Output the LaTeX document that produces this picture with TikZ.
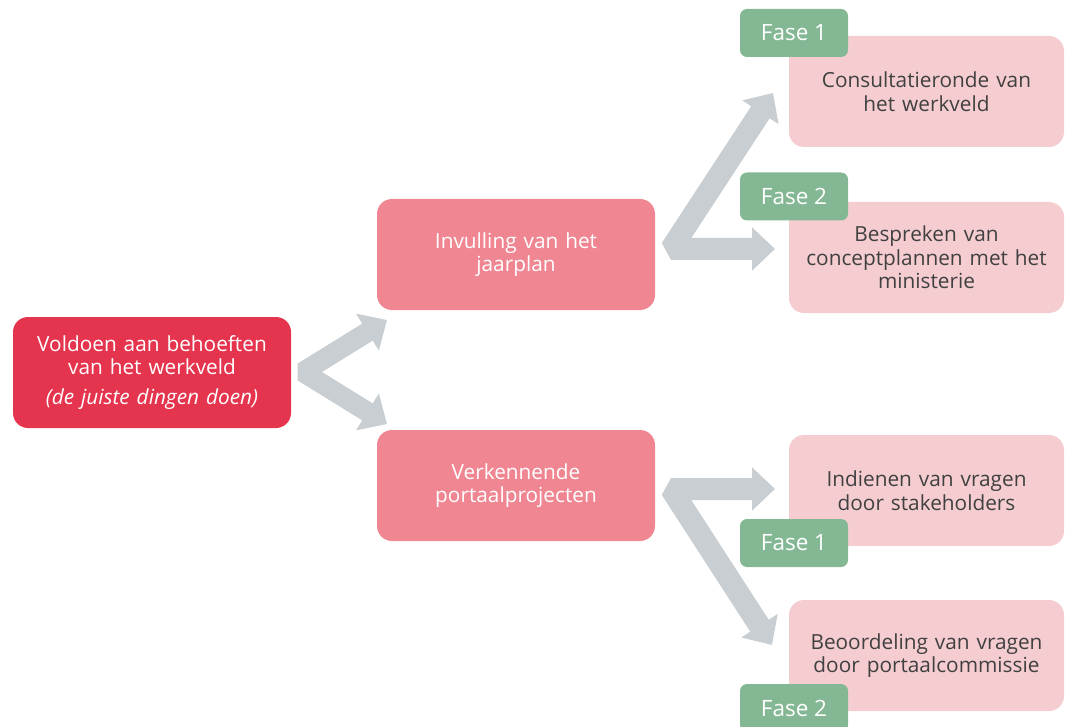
\documentclass[tikz,border=0pt]{standalone}
\usepackage{fontspec}
\setmainfont{Open Sans}
\usetikzlibrary{arrows.meta}
\definecolor{crim}{HTML}{E5344E}
\definecolor{midpink}{HTML}{EF8692}
\definecolor{lightpink}{HTML}{F5CDD1}
\definecolor{fasegreen}{HTML}{84B894}
\definecolor{arrgray}{HTML}{C9CED2}
\definecolor{darktext}{HTML}{404040}
\begin{document}
\begin{tikzpicture}[x=1pt,y=-1pt,
  box/.style={rounded corners=15pt, minimum width=278pt, minimum height=111pt, inner sep=0pt,
    align=center, font=\fontsize{20.8}{23.5}\selectfont, text width=275pt},
  topbox/.style={box, fill=crim, text=white},
  midbox/.style={box, fill=midpink, text=white},
  rightbox/.style={box, fill=lightpink, text=darktext, minimum width=275pt},
  fasebox/.style={rounded corners=7pt, fill=fasegreen, text=white, minimum width=108pt,
    minimum height=48pt, inner sep=0pt, font=\fontsize{22.5}{23}\selectfont},
  garrow/.style={draw=arrgray, line width=22pt, line join=bevel,
    arrows={Triangle[width=42pt,length=23pt]-Triangle[width=42pt,length=23pt]}},
]
\useasboundingbox (0,0) rectangle (1065,727);
\clip (0,0) rectangle (1065,727);

% left-hand and middle boxes
\node[topbox] (main) at (152,372.5) {Voldoen aan behoeften\\van het werkveld\\[6pt]\textit{(de juiste dingen doen)}};
\node[midbox] (plan) at (516,254.5) {Invulling van het\\jaarplan};
\node[midbox] (portal) at (516,485.5) {Verkennende\\portaalprojecten};

% right-hand boxes
\node[rightbox] (consult) at (926.5,91.5) {Consultatieronde van\\het werkveld};
\node[rightbox] (bespreek) at (926.5,257.5) {Bespreken van\\conceptplannen met het\\ministerie};
\node[rightbox] (indien) at (926.5,490.5) {Indienen van vragen\\door stakeholders};
\node[rightbox] (beoordeel) at (926.5,655.5) {Beoordeling van vragen\\door portaalcommissie};

% phase labels
\node[fasebox] (f1a) at (794,33) {Fase 1};
\node[fasebox] (f2a) at (794,196.5) {Fase 2};
\node[fasebox] (f1b) at (794,543) {Fase 1};
\node[fasebox] (f2b) at (794,708) {Fase 2};

% block arrows
\coordinate (lv) at (303,372);
\coordinate (lt1) at (387,320);
\coordinate (lt2) at (387,424);
\draw[garrow, line width=20pt] (lt1) -- (lv) -- (lt2);

\coordinate (tv) at (671,249);
\coordinate (tt1) at (773,93);
\coordinate (tt2) at (775,249);
\draw[garrow] (tt1) -- (tv) -- (tt2);

\coordinate (bv) at (671,489);
\coordinate (bt1) at (775,489);
\coordinate (bt2) at (772,645);
\draw[garrow] (bt1) -- (bv) -- (bt2);
\end{tikzpicture}
\end{document}
